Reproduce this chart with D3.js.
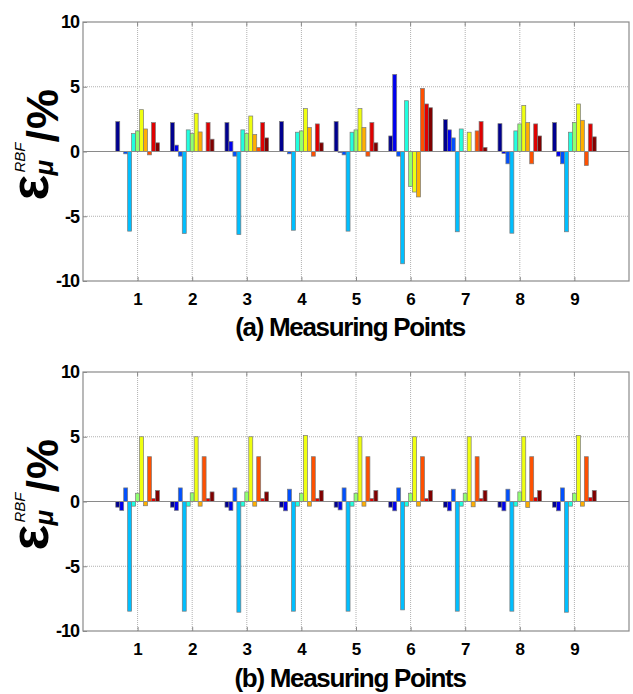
<!DOCTYPE html>
<html>
<head>
<meta charset="utf-8">
<script src="https://cdn.jsdelivr.net/npm/d3@7"></script>
<style>
  html, body { margin: 0; padding: 0; background: #fff; }
  svg { display: block; font-family: "Liberation Sans", Arial, sans-serif; }
</style>
</head>
<body>
<svg id="chart" width="633" height="694"></svg>
<script>
// Measuring points on the x axis
const points = [1, 2, 3, 4, 5, 6, 7, 8, 9];
const yTicks = [-10, -5, 0, 5, 10];

// Relative error (%) of each of the 11 cases at every measuring point, method (a)
const errorsA = [
  [2.31, 0.00, -0.18, -6.15, 1.38, 1.59, 3.23, 1.74, -0.26, 2.23, 0.67],
  [2.23, 0.49, -0.36, -6.33, 1.67, 1.38, 2.95, 1.51, 0.00, 2.23, 0.95],
  [2.23, 0.77, -0.36, -6.41, 1.67, 1.38, 2.74, 1.31, 0.31, 2.23, 1.05],
  [2.31, 0.00, -0.18, -6.08, 1.49, 1.59, 3.31, 1.85, -0.36, 2.13, 0.67],
  [2.31, -0.08, -0.26, -6.15, 1.49, 1.67, 3.31, 1.85, -0.36, 2.23, 0.67],
  [1.20, 5.95, -0.36, -8.67, 3.92, -2.69, -3.13, -3.51, 4.87, 3.67, 3.38],
  [2.46, 1.67, 1.05, -6.20, 1.74, 0.00, 1.49, 0.00, 1.59, 2.31, 0.31],
  [2.15, -0.15, -0.95, -6.31, 1.59, 2.13, 3.56, 2.23, -0.95, 2.13, 1.20],
  [2.23, -0.36, -0.95, -6.20, 1.49, 2.23, 3.67, 2.41, -1.08, 2.13, 1.13]
];

// Relative error (%) of each of the 11 cases at every measuring point, method (b)
const errorsB = [
  [-0.44, -0.69, 1.05, -8.47, -0.36, 0.64, 5.00, -0.33, 3.46, 0.23, 0.85],
  [-0.44, -0.69, 1.05, -8.47, -0.36, 0.67, 5.00, -0.36, 3.46, 0.23, 0.74],
  [-0.44, -0.69, 1.05, -8.55, -0.36, 0.74, 5.00, -0.36, 3.46, 0.23, 0.74],
  [-0.44, -0.72, 0.95, -8.47, -0.36, 0.64, 5.10, -0.36, 3.46, 0.23, 0.85],
  [-0.44, -0.65, 1.05, -8.47, -0.36, 0.64, 5.00, -0.36, 3.46, 0.23, 0.85],
  [-0.44, -0.72, 1.05, -8.37, -0.36, 0.64, 5.00, -0.36, 3.46, 0.23, 0.85],
  [-0.44, -0.72, 0.95, -8.47, -0.36, 0.64, 5.00, -0.41, 3.46, 0.23, 0.85],
  [-0.44, -0.72, 0.95, -8.47, -0.36, 0.74, 5.00, -0.46, 3.46, 0.31, 0.85],
  [-0.44, -0.72, 1.05, -8.55, -0.36, 0.64, 5.10, -0.36, 3.46, 0.31, 0.85]
];

// Jet colours sampled for 11 series
const seriesColors = [
  "#00008f", "#0000ef", "#0050ff", "#00bfff", "#20ffdf", "#8fff70",
  "#efff10", "#ffaf00", "#ff5000", "#df0000", "#800000"
];

const panels = [
  { label: "(a)", data: errorsA, top: 22, bottom: 281, tickBase: 305, titleBase: 336 },
  { label: "(b)", data: errorsB, top: 372, bottom: 631, tickBase: 655, titleBase: 687 }
];

const svg = d3.select("#chart");
const left = 83, right = 629;
const x = d3.scaleLinear().domain([0, 10]).range([left, right]);
// position of each series inside its group (data units), grouped-bar layout
const inner = d3.scaleBand().domain(d3.range(11)).range([-0.4, 0.4]).padding(0);
const barW = x(inner.bandwidth()) - x(0);
const axisGray = "#8a8a8a";

panels.forEach(p => {
  const y = d3.scaleLinear().domain([-10, 10]).range([p.bottom, p.top]);
  const g = svg.append("g");

  // dotted grid
  g.selectAll(".gx").data(points).join("line")
    .attr("x1", d => x(d)).attr("x2", d => x(d))
    .attr("y1", p.top).attr("y2", p.bottom)
    .attr("stroke", "#b0b0b0").attr("stroke-width", 1)
    .attr("stroke-dasharray", "1,1");
  g.selectAll(".gy").data([-5, 5]).join("line")
    .attr("x1", left).attr("x2", right)
    .attr("y1", d => y(d)).attr("y2", d => y(d))
    .attr("stroke", "#b0b0b0").attr("stroke-width", 1)
    .attr("stroke-dasharray", "1,1");

  // bars
  const groups = g.selectAll(".grp").data(p.data).join("g");
  groups.selectAll("rect").data((vals, gi) => vals.map((v, i) => ({ v, i, pt: points[gi] })))
    .join("rect")
    .attr("x", d => x(d.pt + inner(d.i)))
    .attr("width", barW)
    .attr("y", d => y(Math.max(0, d.v)))
    .attr("height", d => Math.abs(y(d.v) - y(0)))
    .attr("fill", d => seriesColors[d.i])
    .attr("stroke", "#7a7a7a")
    .attr("stroke-width", 0.7);

  // zero baseline
  g.append("line")
    .attr("x1", left).attr("x2", right)
    .attr("y1", y(0)).attr("y2", y(0))
    .attr("stroke", axisGray).attr("stroke-width", 1.2);

  // box
  g.append("rect")
    .attr("x", left).attr("y", p.top)
    .attr("width", right - left).attr("height", p.bottom - p.top)
    .attr("fill", "none").attr("stroke", axisGray).attr("stroke-width", 1.2);

  // axes
  const yAxis = d3.axisLeft(y).tickValues(yTicks).tickSize(-4).tickPadding(4)
    .tickFormat(d => String(d));
  const ya = g.append("g").attr("transform", `translate(${left},0)`).call(yAxis);
  ya.select(".domain").remove();
  ya.selectAll(".tick line").attr("stroke", axisGray);
  ya.selectAll(".tick text")
    .attr("font-size", 18).attr("font-weight", "bold").attr("fill", "#000")
    .attr("letter-spacing", "-1px");

  const xAxis = d3.axisBottom(x).tickValues(points).tickSize(-4).tickPadding(0)
    .tickFormat(d => String(d));
  const xa = g.append("g").attr("transform", `translate(0,${p.bottom})`).call(xAxis);
  xa.select(".domain").remove();
  xa.selectAll(".tick line").attr("stroke", axisGray);
  xa.selectAll(".tick text")
    .attr("font-size", 17).attr("font-weight", "bold").attr("fill", "#000")
    .attr("dy", null).attr("y", p.tickBase - p.bottom);

  // top ticks
  g.selectAll(".tt").data(points).join("line")
    .attr("x1", d => x(d)).attr("x2", d => x(d))
    .attr("y1", p.top).attr("y2", p.top + 4)
    .attr("stroke", axisGray);

  // x title
  g.append("text")
    .attr("x", 350).attr("y", p.titleBase)
    .attr("text-anchor", "middle")
    .attr("font-size", 26).attr("font-weight", "bold")
    .attr("letter-spacing", "-1.3px")
    .text(p.label + " Measuring Points");

  // y title: ε_μ^RBF /%
  const mid = (p.top + p.bottom) / 2;
  const yl = g.append("g").attr("transform", `translate(0,${mid + 49}) rotate(-90)`);
  yl.append("text").attr("x", 0).attr("y", 48)
    .attr("font-size", 54).attr("font-weight", "bold").text("ε");
  yl.append("text").attr("x", 25).attr("y", 53)
    .attr("font-size", 26).attr("font-style", "italic").attr("font-weight", "bold").text("μ");
  yl.append("text").attr("x", 28).attr("y", 25)
    .attr("font-size", 15).attr("font-style", "italic").text("RBF");
  yl.append("text").attr("x", 58).attr("y", 58)
    .attr("font-size", 45).attr("font-weight", "bold").attr("letter-spacing", "1px").text("/%");
});
</script>
</body>
</html>
